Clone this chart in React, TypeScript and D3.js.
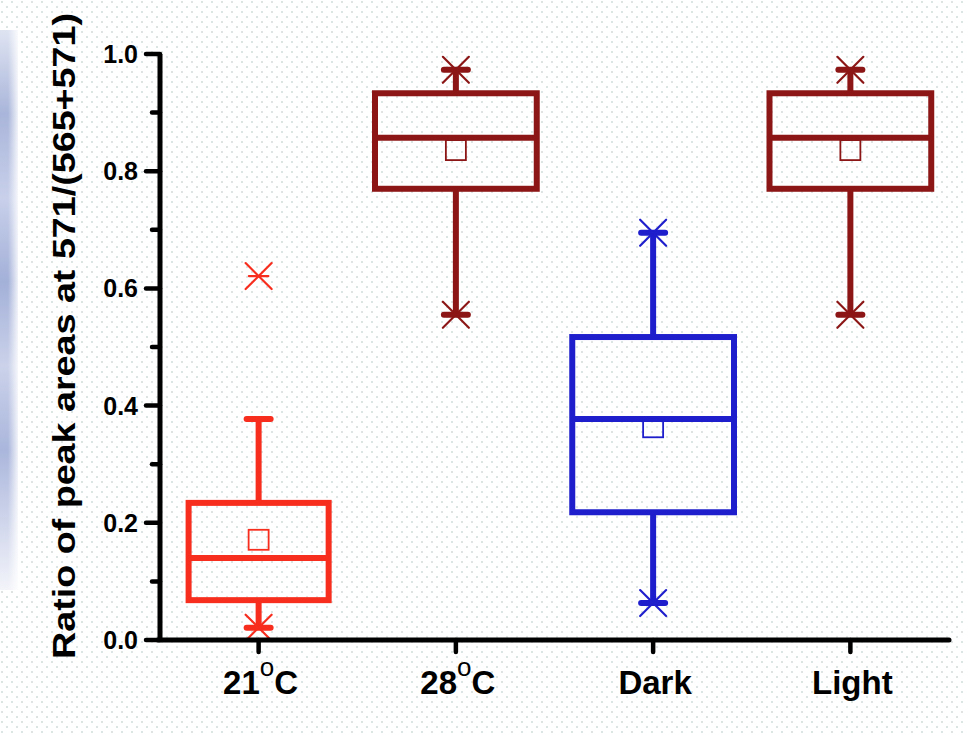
import React from "react";
import * as d3 from "d3";

// values
const categories = ["21°C", "28°C", "Dark", "Light"];
const q1 = [0.068, 0.77, 0.218, 0.77];
const median = [0.14, 0.857, 0.377, 0.857];
const q3 = [0.234, 0.933, 0.517, 0.933];
const mean = [0.171, 0.836, 0.363, 0.836];
const whiskerLow = [0.021, 0.555, 0.063, 0.555];
const whiskerHigh = [0.377, 0.973, 0.695, 0.973];
const minVal = [0.021, 0.555, 0.063, 0.555];
const maxVal = [0.621, 0.973, 0.695, 0.973];
const yTicks = [0, 0.2, 0.4, 0.6, 0.8, 1.0];
const yLabel = "Ratio of peak areas at 571/(565+571)";

const colors = ["#f72d1e", "#8c1616", "#1e1ecc", "#8c1616"];
const boxWidths = [0.71, 0.82, 0.82, 0.82];

const W = 965;
const H = 733;
const FONT = "'Liberation Sans', Arial, sans-serif";

function Star({ x, y, color }: { x: number; y: number; color: string }) {
  const s = 13;
  return (
    <g stroke={color} strokeWidth={2.2} strokeLinecap="round">
      <line x1={x - s} y1={y - s} x2={x + s} y2={y + s} />
      <line x1={x - s} y1={y + s} x2={x + s} y2={y - s} />
      <line x1={x - s * 0.75} y1={y} x2={x + s * 0.75} y2={y} />
    </g>
  );
}

function CatLabel({ text, x, y }: { text: string; x: number; y: number }) {
  const parts = text.split("°");
  if (parts.length === 1) {
    return (
      <text x={x} y={y} textAnchor="middle" fontSize={33} fontWeight="bold" fontFamily={FONT}>
        {text}
      </text>
    );
  }
  return (
    <text x={x} y={y} textAnchor="middle" fontSize={33} fontWeight="bold" fontFamily={FONT}>
      <tspan>{parts[0]}</tspan>
      <tspan dy={-18} fontSize={26} fontWeight="normal">o</tspan>
      <tspan dy={18}>{parts[1]}</tspan>
    </text>
  );
}

export default function App() {
  const x = d3.scaleLinear().domain([0.5, 4.5]).range([160, 949]);
  const y = d3.scaleLinear().domain([0, 1]).range([640, 54]);
  const minorTicks = d3.range(0.1, 1.0, 0.2);
  const step = x(2) - x(1);

  return (
    <svg
      width={W}
      height={H}
      style={{ position: "absolute", left: 0, top: 0, background: "#fff" }}
    >
      <defs>
        <pattern id="dots" width={10} height={10} patternUnits="userSpaceOnUse">
          <circle cx={2} cy={2} r={0.75} fill="#a9bcbc" />
          <circle cx={7} cy={7} r={0.75} fill="#a9bcbc" />
        </pattern>
        <linearGradient id="strip" x1="0" y1="0" x2="0" y2="1">
          <stop offset="0" stopColor="#dfe4f2" />
          <stop offset="0.15" stopColor="#a9b5da" />
          <stop offset="0.3" stopColor="#c8d0ea" />
          <stop offset="0.45" stopColor="#a3b0d8" />
          <stop offset="0.6" stopColor="#cbd2ea" />
          <stop offset="0.75" stopColor="#aab6dc" />
          <stop offset="1" stopColor="#f3f4fa" />
        </linearGradient>
        <linearGradient id="fade" x1="0" y1="0" x2="1" y2="0">
          <stop offset="0" stopColor="#fff" stopOpacity={0} />
          <stop offset="1" stopColor="#fff" stopOpacity={1} />
        </linearGradient>
      </defs>
      <rect width={W} height={H} fill="#fff" />
      <rect width={W} height={H} fill="url(#dots)" />
      <rect x={0} y={30} width={18} height={560} fill="url(#strip)" />
      <rect x={8} y={30} width={12} height={560} fill="url(#fade)" />

      {/* y label */}
      <text
        transform={`translate(75, ${336}) rotate(-90)`}
        textAnchor="middle"
        fontSize={31}
        fontWeight="bold"
        fontFamily={FONT}
        textLength={646}
        lengthAdjust="spacingAndGlyphs"
      >
        {yLabel}
      </text>

      {/* boxes */}
      {categories.map((c, i) => {
        const cx = x(i + 1);
        const bw = (boxWidths[i] * step) / 2;
        const col = colors[i];
        const cap = 12;
        return (
          <g key={c}>
            <line x1={cx} x2={cx} y1={y(q3[i])} y2={y(whiskerHigh[i])} stroke={col} strokeWidth={6} />
            <line x1={cx} x2={cx} y1={y(q1[i])} y2={y(whiskerLow[i])} stroke={col} strokeWidth={6} />
            <line x1={cx - cap} x2={cx + cap} y1={y(whiskerHigh[i])} y2={y(whiskerHigh[i])} stroke={col} strokeWidth={6} strokeLinecap="round" />
            <line x1={cx - cap} x2={cx + cap} y1={y(whiskerLow[i])} y2={y(whiskerLow[i])} stroke={col} strokeWidth={6} strokeLinecap="round" />
            <rect
              x={cx - bw}
              y={y(q3[i])}
              width={bw * 2}
              height={y(q1[i]) - y(q3[i])}
              fill="none"
              stroke={col}
              strokeWidth={6}
            />
            <line x1={cx - bw} x2={cx + bw} y1={y(median[i])} y2={y(median[i])} stroke={col} strokeWidth={6} />
            <rect x={cx - 10} y={y(mean[i]) - 10} width={20} height={20} fill="none" stroke={col} strokeWidth={1.8} />
            <Star x={cx} y={y(minVal[i])} color={col} />
            <Star x={cx} y={y(maxVal[i])} color={col} />
          </g>
        );
      })}

      {/* y axis */}
      <line x1={160} x2={160} y1={y(1)} y2={y(0)} stroke="#000" strokeWidth={5} />
      {yTicks.map((t) => (
        <g key={t}>
          <line x1={146} x2={160} y1={y(t)} y2={y(t)} stroke="#000" strokeWidth={4.5} strokeLinecap="round" />
          <text
            x={138}
            y={y(t)}
            dy="0.36em"
            textAnchor="end"
            fontSize={25}
            fontWeight="bold"
            fontFamily={FONT}
          >
            {d3.format(".1f")(t)}
          </text>
        </g>
      ))}
      {minorTicks.map((t) => (
        <line key={t} x1={152} x2={160} y1={y(t)} y2={y(t)} stroke="#000" strokeWidth={4.5} strokeLinecap="round" />
      ))}

      {/* x axis */}
      <line x1={158} x2={949} y1={640} y2={640} stroke="#000" strokeWidth={5} strokeLinecap="round" />
      {categories.map((c, i) => (
        <g key={c}>
          <line x1={x(i + 1)} x2={x(i + 1)} y1={640} y2={652} stroke="#000" strokeWidth={4.5} strokeLinecap="round" />
          <CatLabel text={c} x={x(i + 1) + 2} y={694} />
        </g>
      ))}
    </svg>
  );
}
